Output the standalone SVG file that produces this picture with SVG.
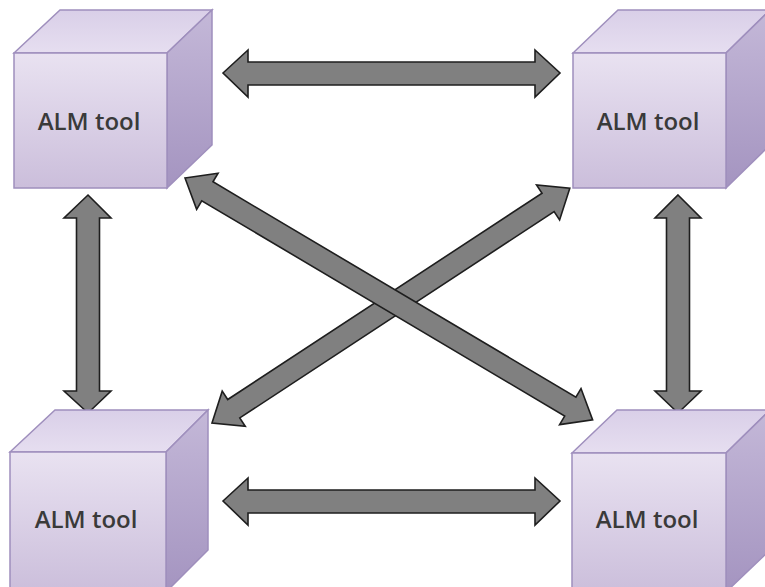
<svg xmlns="http://www.w3.org/2000/svg" width="765" height="587" viewBox="0 0 765 587">
<defs>
<linearGradient id="gFront" x1="0" y1="0" x2="0" y2="1">
<stop offset="0" stop-color="#e9e2f1"/>
<stop offset="1" stop-color="#cbbedb"/>
</linearGradient>
<linearGradient id="gSide" x1="0" y1="0" x2="0" y2="1">
<stop offset="0" stop-color="#c4b8d8"/>
<stop offset="1" stop-color="#a494c0"/>
</linearGradient>
<linearGradient id="gTop" x1="0" y1="1" x2="0" y2="0">
<stop offset="0" stop-color="#e6def0"/>
<stop offset="1" stop-color="#d9cfe8"/>
</linearGradient>
</defs>
<style>
.front{fill:url(#gFront);stroke:#9f8fbd;stroke-width:1.5}
.side{fill:url(#gSide);stroke:#9f8fbd;stroke-width:1.5}
.top{fill:url(#gTop);stroke:#9f8fbd;stroke-width:1.5}
.lbl{font-family:"Open Sans","Liberation Sans",sans-serif;font-size:24px;font-weight:600;fill:#3a3a3a;text-anchor:middle}
.arr{fill:#808080;stroke:#1e1e1e;stroke-width:1.6;stroke-linejoin:miter}
</style>
<rect width="765" height="587" fill="#ffffff"/>
<g id="connectors">
<polygon class="arr" points="223,73 248,50 248,62 535,62 535,50 560,73 535,97 535,85 248,85 248,97"/>
<polygon class="arr" points="223,501 248,478 248,490 535,490 535,478 560,501 535,525 535,513 248,513 248,525"/>
<polygon class="arr" points="88,195 111,218 99.5,218 99.5,391 111,391 88,413 64,391 76.5,391 76.5,218 64,218"/>
<polygon class="arr" points="678,195 701,218 689.5,218 689.5,391 701,391 678,413 655,391 666.5,391 666.5,218 655,218"/>
<g transform="translate(212,423) rotate(-33.28)">
<polygon class="arr" points="0,0 26,-21 26,-11 402,-11 402,-21 428,0 402,21 402,11 26,11 26,21"/>
</g>
<g transform="translate(185,178) rotate(30.68)">
<polygon class="arr" points="0,0 26,-21 26,-11 448,-11 448,-21 474,0 448,21 448,11 26,11 26,21"/>
</g>
</g>
<g id="node-tl">
<polygon class="top" points="14,53 60,10 212,10 167,53"/>
<polygon class="side" points="167,53 212,10 212,145 167,188"/>
<rect class="front" x="14" y="53" width="153" height="135"/>
<text class="lbl" x="89" y="130">ALM tool</text>
</g>
<g id="node-tr">
<polygon class="top" points="573,53 618,10 770,10 726,53"/>
<polygon class="side" points="726,53 770,10 770,145 726,188"/>
<rect class="front" x="573" y="53" width="153" height="135"/>
<text class="lbl" x="648" y="130">ALM tool</text>
</g>
<g id="node-bl">
<polygon class="top" points="10,452 55,410 208,410 166,452"/>
<polygon class="side" points="166,452 208,410 208,550 166,592"/>
<rect class="front" x="10" y="452" width="156" height="140"/>
<text class="lbl" x="86" y="528">ALM tool</text>
</g>
<g id="node-br">
<polygon class="top" points="572,453 617,410 770,410 726,453"/>
<polygon class="side" points="726,453 770,410 770,550 726,592"/>
<rect class="front" x="572" y="453" width="154" height="140"/>
<text class="lbl" x="647" y="528">ALM tool</text>
</g>
</svg>
